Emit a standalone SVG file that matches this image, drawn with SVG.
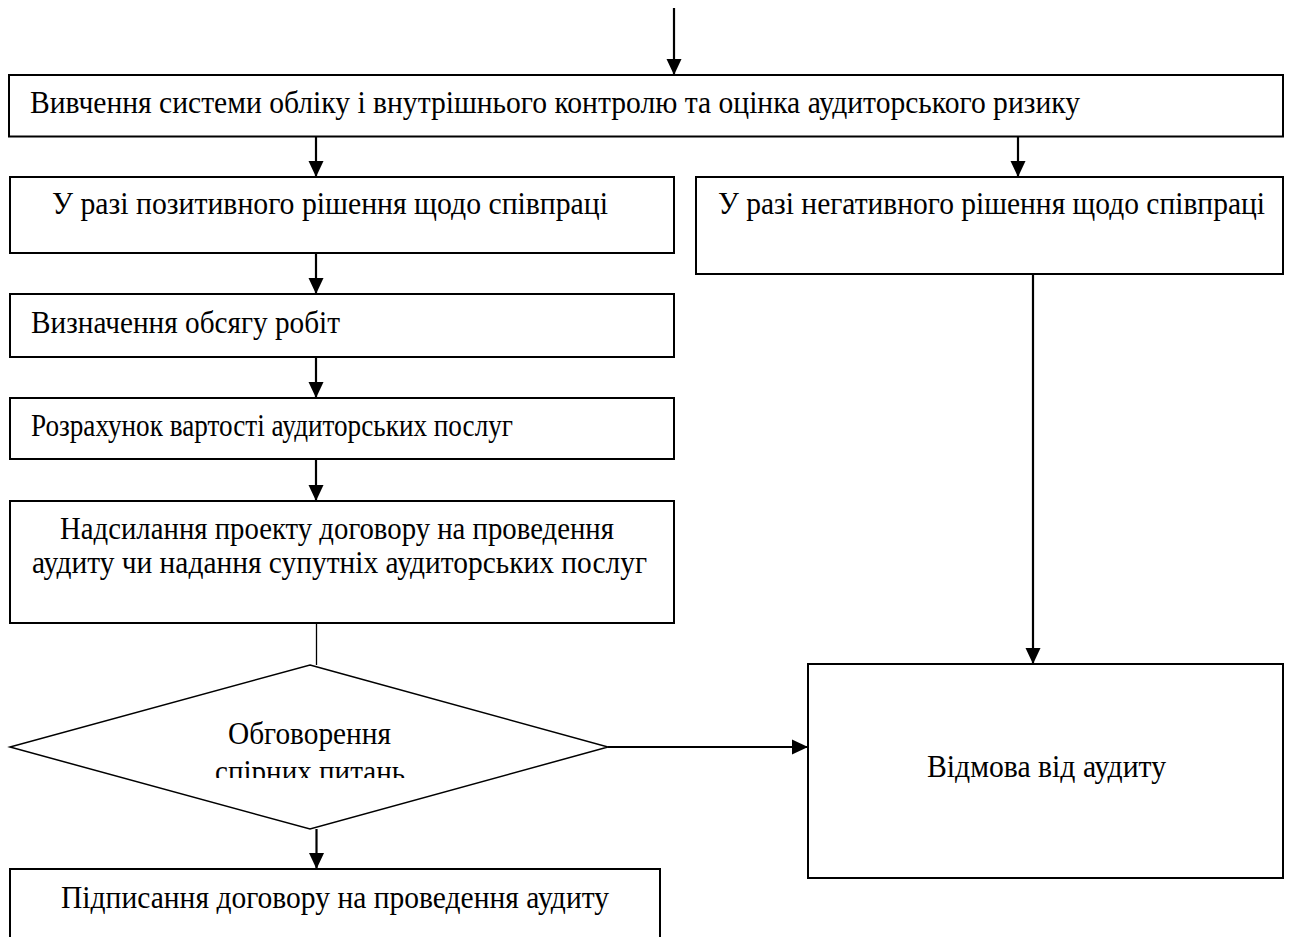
<svg xmlns="http://www.w3.org/2000/svg" width="1291" height="937" viewBox="0 0 1291 937">
<style>
.box{fill:#fff;stroke:#000;stroke-width:2}
.dia{fill:#fff;stroke:#000;stroke-width:1.5}
.t{font-family:"Liberation Serif","Times New Roman",serif;font-size:31.5px;fill:#000}
.ln{fill:none;stroke:#000;stroke-width:2.2}
.thin{fill:none;stroke:#000;stroke-width:1.3}
</style>
<defs>
<marker id="ah" markerUnits="userSpaceOnUse" markerWidth="16" markerHeight="16" viewBox="0 0 16 16" refX="16" refY="8" orient="auto">
<path d="M0,0.5 L16,8 L0,15.5 Z" fill="#000"/>
</marker>
<clipPath id="clipDia"><rect x="0" y="700" width="620" height="78"/></clipPath>
</defs>
<rect width="1291" height="937" fill="#fff"/>
<g id="connectors">
<line class="ln" x1="674" y1="8" x2="674" y2="75" marker-end="url(#ah)"/>
<line class="ln" x1="316" y1="137" x2="316" y2="177" marker-end="url(#ah)"/>
<line class="ln" x1="1018" y1="137" x2="1018" y2="177" marker-end="url(#ah)"/>
<line class="ln" x1="316" y1="253" x2="316" y2="294" marker-end="url(#ah)"/>
<line class="ln" x1="316" y1="357" x2="316" y2="398" marker-end="url(#ah)"/>
<line class="ln" x1="316" y1="459" x2="316" y2="501" marker-end="url(#ah)"/>
<line class="thin" x1="316.5" y1="623" x2="316.5" y2="665"/>
<line class="ln" x1="608" y1="747" x2="808" y2="747" marker-end="url(#ah)"/>
<line class="ln" x1="1033" y1="274" x2="1033" y2="664" marker-end="url(#ah)"/>
<line class="ln" x1="316.5" y1="829" x2="316.5" y2="869" marker-end="url(#ah)"/>
</g>
<g id="n1">
<rect class="box" x="9" y="75" width="1274" height="61.5"/>
<text class="t" x="30" y="113" textLength="1050" lengthAdjust="spacingAndGlyphs">Вивчення системи обліку і внутрішнього контролю та оцінка аудиторського ризику</text>
</g>
<g id="n2">
<rect class="box" x="10" y="177" width="664" height="76"/>
<text class="t" x="52" y="213.5" textLength="556" lengthAdjust="spacingAndGlyphs">У разі позитивного рішення щодо співпраці</text>
</g>
<g id="n3">
<rect class="box" x="696" y="177" width="587" height="97"/>
<text class="t" x="718" y="213.5" textLength="547" lengthAdjust="spacingAndGlyphs">У разі негативного рішення щодо співпраці</text>
</g>
<g id="n4">
<rect class="box" x="10" y="294" width="664" height="63"/>
<text class="t" x="31" y="332.5" textLength="309" lengthAdjust="spacingAndGlyphs">Визначення обсягу робіт</text>
</g>
<g id="n5">
<rect class="box" x="10" y="398" width="664" height="61"/>
<text class="t" x="31" y="435.5" textLength="482" lengthAdjust="spacingAndGlyphs">Розрахунок вартості аудиторських послуг</text>
</g>
<g id="n6">
<rect class="box" x="10" y="501" width="664" height="122"/>
<text class="t" x="60" y="538.5" textLength="554" lengthAdjust="spacingAndGlyphs">Надсилання проекту договору на проведення</text>
<text class="t" x="32" y="572.5" textLength="615" lengthAdjust="spacingAndGlyphs">аудиту чи надання супутніх аудиторських послуг</text>
</g>
<g id="n7">
<polygon class="dia" points="310,665 608,747 310,829 10,747"/>
<text class="t" x="228" y="743.5" textLength="163" lengthAdjust="spacingAndGlyphs">Обговорення</text>
<text class="t" x="215" y="781.5" textLength="190" lengthAdjust="spacingAndGlyphs" clip-path="url(#clipDia)">спірних питань</text>
</g>
<g id="n8">
<rect class="box" x="808" y="664" width="475" height="214"/>
<text class="t" x="927" y="776.5" textLength="239" lengthAdjust="spacingAndGlyphs">Відмова від аудиту</text>
</g>
<g id="n9">
<polyline class="box" points="10,940 10,869 660,869 660,940"/>
<text class="t" x="61" y="907.5" textLength="548" lengthAdjust="spacingAndGlyphs">Підписання договору на проведення аудиту</text>
</g>
</svg>
